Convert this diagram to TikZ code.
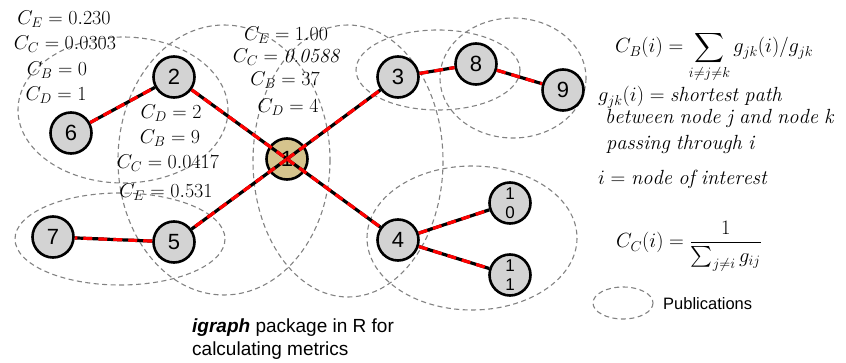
\RequirePackage{fix-cm}
\documentclass[tikz,border=0pt]{standalone}
\usepackage{amsmath}
\usepackage{fontspec}
\setsansfont{Liberation Sans}

\definecolor{nodegray}{RGB}{211,211,211}
\definecolor{hubtan}{RGB}{213,196,141}
\definecolor{pubgray}{RGB}{130,130,130}
\definecolor{linkred}{RGB}{255,0,0}

\tikzset{
  vtx/.style={circle, draw=black, line width=2.6pt, fill=nodegray,
    minimum size=41pt, inner sep=0pt,
    font=\sffamily\fontsize{22}{22}\selectfont},
  smallvtx/.style={vtx, align=center,
    font=\sffamily\fontsize{17}{19}\selectfont},
  hub/.style={vtx, fill=hubtan},
  link/.style={line width=3.2pt, draw=black,
    postaction={draw=linkred, line width=3.2pt, dash pattern=on 9pt off 6pt}},
  pub/.style={draw=pubgray, line width=1.1pt, dash pattern=on 5pt off 3.5pt},
  metric/.style={anchor=base, inner sep=0pt, font=\fontsize{20}{22}\selectfont},
  formula/.style={anchor=base west, inner sep=0pt, font=\fontsize{20.5}{24}\selectfont},
  note/.style={anchor=base west, inner sep=0pt, font=\sffamily\fontsize{19}{22}\selectfont},
}

\begin{document}
\begin{tikzpicture}[x=1pt, y=-1pt]
\useasboundingbox (0,0) rectangle (846,363);

% publication groupings
\draw[pub] (123,110) ellipse [x radius=105, y radius=73];
\draw[pub] (224,160) ellipse [x radius=106, y radius=135];
\draw[pub] (348,161) ellipse [x radius=95, y radius=136];
\draw[pub] (438,70) ellipse [x radius=82, y radius=40];
\draw[pub] (513,78) ellipse [x radius=73, y radius=60];
\draw[pub] (120,239) ellipse [x radius=105, y radius=46];
\draw[pub] (472,238) ellipse [x radius=105, y radius=72];

% vertices
\node[hub] (n1) at (287,159) {1};
\node[vtx] (n2) at (174,77) {2};
\node[vtx] (n3) at (398,77) {3};
\node[vtx] (n4) at (398,240) {4};
\node[vtx] (n5) at (174,242) {5};
\node[vtx] (n6) at (71,133) {6};
\node[vtx] (n7) at (53,237) {7};
\node[vtx] (n8) at (476,64) {8};
\node[vtx] (n9) at (563,90) {9};
\node[smallvtx] (n10) at (510,203) {1\\0};
\node[smallvtx] (n11) at (510,275) {1\\1};

% co-authorship links
\draw[link] (n6) -- (n2);
\draw[link] (n2) -- (n1.center);
\draw[link] (n1.center) -- (n3);
\draw[link] (n3) -- (n8);
\draw[link] (n8) -- (n9);
\draw[link] (n1.center) -- (n5);
\draw[link] (n5) -- (n7);
\draw[link] (n1.center) -- (n4);
\draw[link] (n4) -- (n10);
\draw[link] (n4) -- (n11);

% metrics of node 6
\node[metric] (m6e) at (64,25) {$C_E = 0.230$};
\node[metric] (m6c) at (65,50) {$C_C = 0.0303$};
\node[metric] (m6b) at (57,76) {$C_B = 0$};
\node[metric] (m6d) at (56,101) {$C_D = 1$};

% metrics of node 2
\node[metric] (m2d) at (171,119) {$C_D = 2$};
\node[metric] (m2b) at (170,144) {$C_B = 9$};
\node[metric] (m2c) at (168,169) {$C_C = 0.0417$};
\node[metric] (m2e) at (166,198) {$C_E = 0.531$};

% metrics of node 1
\node[metric] (m1e) at (286,41) {$C_E = 1.00$};
\node[metric] (m1c) at (286,63) {$C_C = \mathit{0.0588}$};
\node[metric] (m1b) at (285,86) {$C_B = 37$};
\node[metric] (m1d) at (288,113) {$C_D = 4$};

% definitions
\node[formula] (fb) at (615,53) {$\displaystyle C_B(i) = \sum_{i\neq j\neq k} g_{jk}(i)/g_{jk}$};
\node[formula] (fg1) at (598,102) {$g_{jk}(i) = \mathit{shortest\ path}$};
\node[formula] (fg2) at (605,124) {$\mathit{between\ node\ j\ and\ node\ k}$};
\node[formula] (fg3) at (606,150) {$\mathit{passing\ through\ i}$};
\node[formula] (fi) at (598,185) {$i = \mathit{node\ of\ interest}$};
\node[formula] (fc) at (616,248) {$\displaystyle C_C(i) = \frac{1}{\sum_{j\neq i} g_{ij}}$};

% legend
\draw[pub] (623,303) ellipse [x radius=30, y radius=16];
\node[note, font=\sffamily\fontsize{16.5}{20}\selectfont] (leg) at (663,309) {Publications};

% tool note
\node[note] (tool1) at (192,332) {\textbf{\textit{igraph}} package in R for};
\node[note] (tool2) at (192,355) {calculating metrics};
\end{tikzpicture}
\end{document}
